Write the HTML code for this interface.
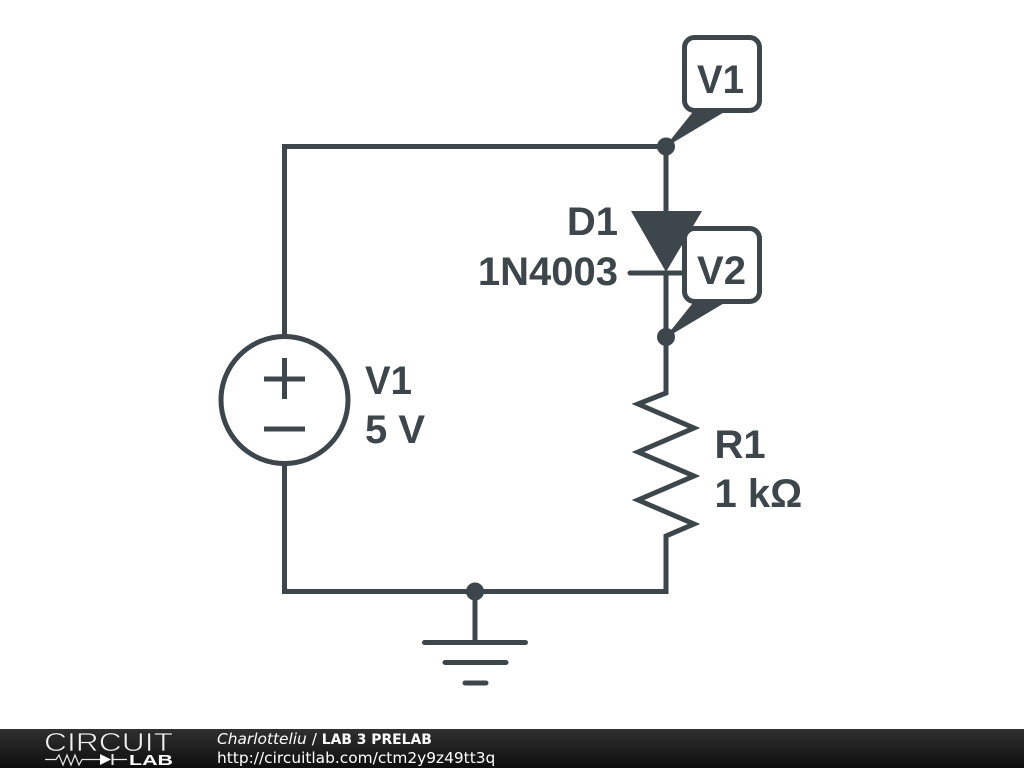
<!DOCTYPE html>
<html>
<head>
<meta charset="utf-8">
<style>
html,body{margin:0;padding:0;background:#fff;width:1024px;height:768px;overflow:hidden}
svg{display:block}
.l{font-family:"Liberation Sans",sans-serif;font-weight:bold;font-size:40px;fill:#3d464b}
.f{font-family:"DejaVu Sans",sans-serif;font-size:15.400px;fill:#fff}
</style>
</head>
<body>
<svg width="1024" height="768" viewBox="0 0 1024 768" xmlns="http://www.w3.org/2000/svg">
<defs>
<linearGradient id="g" x1="0" y1="0" x2="0" y2="1"><stop offset="0" stop-color="#303030"/><stop offset="1" stop-color="#0e0e0e"/></linearGradient>
</defs>
<rect width="1024" height="768" fill="#fff"/>
<g fill="none" stroke="#3d464b" stroke-width="5">
<path d="M284.500 336V146.500H666V211M666 272V393L638 404L694 428L638 452L694 476L638 500L694 524L666 536V591.500H284.500V464"/>
<circle cx="284.500" cy="400" r="63.500"/>
<path d="M264 379H305M284.500 358V399M264 429H305"/>
<path d="M475 591V642"/>
<g stroke-linecap="round">
<path d="M424.500 642.500H525.500M445 662.500H506M465 683H486"/>
<path d="M630 273H684"/>
</g>
</g>
<polygon points="631,211 702,211 666,272" fill="#3d464b"/>
<g fill="#3d464b">
<circle cx="666" cy="146.500" r="9"/>
<circle cx="666" cy="337" r="9"/>
<circle cx="475" cy="591.500" r="9"/>
<polygon points="664,148 696,108 731,108"/>
<polygon points="664,339 696,299 731,299"/>
</g>
<rect x="684.500" y="37.500" width="75" height="73" rx="10" fill="#fff" stroke="#3d464b" stroke-width="5"/>
<rect x="684.500" y="228.500" width="75" height="73" rx="10" fill="#fff" stroke="#3d464b" stroke-width="5"/>
<text class="l" x="697" y="93" textLength="47" lengthAdjust="spacingAndGlyphs">V1</text>
<text class="l" x="697" y="284" textLength="49" lengthAdjust="spacingAndGlyphs">V2</text>
<text class="l" x="618" y="235" text-anchor="end">D1</text>
<text class="l" x="618" y="285" text-anchor="end">1N4003</text>
<text class="l" x="365" y="394" textLength="47" lengthAdjust="spacingAndGlyphs">V1</text>
<text class="l" x="365" y="443">5 V</text>
<text class="l" x="714.500" y="458">R1</text>
<text class="l" x="714.500" y="507">1 kΩ</text>
<rect x="0" y="729" width="1024" height="39" fill="url(#g)"/>
<text x="44" y="751" font-family="Liberation Sans,sans-serif" font-size="26" fill="#f0f0f0" stroke="#222" stroke-width="0.700" textLength="129" lengthAdjust="spacingAndGlyphs">CIRCUIT</text>
<text x="129" y="765" font-family="Liberation Sans,sans-serif" font-weight="bold" font-size="15" fill="#fff" textLength="44" lengthAdjust="spacingAndGlyphs">LAB</text>
<g fill="none" stroke="#e8e8e8" stroke-width="1.200">
<path d="M45 759.500H56L59 755L63 765L67 755L71 765L75 755L79 765L82 759.500H100M112 759.500H127"/>
<path d="M112.500 754V765" stroke-width="2"/>
</g>
<polygon points="100,754 100,765 111,759.500" fill="#fff"/>
<text class="f" x="217" y="744"><tspan font-style="italic">Charlotteliu</tspan> / <tspan font-weight="bold" style="font-size:13.900px">LAB 3 PRELAB</tspan></text>
<text class="f" x="217" y="763">http://circuitlab.com/ctm2y9z49tt3q</text>
</svg>
</body>
</html>
